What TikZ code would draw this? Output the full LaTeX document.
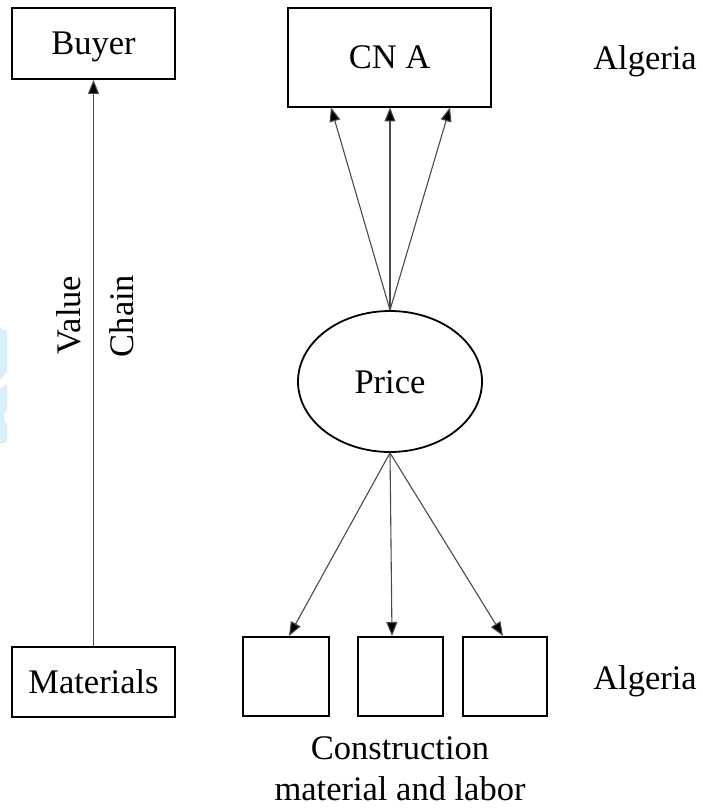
\documentclass[tikz,border=0pt]{standalone}
\usepackage{fontspec}
\setmainfont{Liberation Serif}
\usetikzlibrary{arrows.meta,shapes.geometric}
\definecolor{linkgray}{HTML}{4A4A4A}
\definecolor{markblue}{HTML}{D8EFFC}
\begin{document}
\begin{tikzpicture}[x=1pt,y=-1pt,
  txt/.style={font=\fontsize{34.5}{41}\selectfont, inner sep=0pt,
    text height=23pt, text depth=0pt},
  boxnode/.style={txt, draw=black, line width=1.8pt, rectangle},
  link/.style={draw=linkgray, line width=1.1pt,
    -{Triangle[length=14pt,width=11pt,fill=black]}}]
  \useasboundingbox (0,0) rectangle (703,810);
  \fill[white] (0,0) rectangle (703,810);

  % faint mark at the left margin
  \fill[markblue] (0,328) -- (7,331) -- (7,372) -- (0,380) -- cycle;
  \fill[markblue] (0,389) -- (7,384) -- (7,410) -- (4,414) -- (4,420)
    -- (7,424) -- (7,442) -- (0,444) -- cycle;

  % value chain column
  \node[boxnode, minimum width=163pt, minimum height=71pt] (buyer) at (93.5,43.5) {Buyer};
  \node[boxnode, minimum width=163pt, minimum height=70pt] (materials) at (93.5,682) {Materials};
  \draw[link] (materials.north) -- (buyer.south);
  \node[txt, rotate=90] (value) at (68.5,315) {Value};
  \node[txt, rotate=90] (chain) at (121.5,316) {Chain};

  % price network
  \node[boxnode, minimum width=203pt, minimum height=99pt] (cna) at (389.5,57.5) {CN A};
  \node[txt, draw=black, line width=1.8pt, ellipse, minimum width=184pt, minimum height=141pt] (price) at (390,381.5) {Price};
  \node[boxnode, minimum width=86pt, minimum height=79pt] (b1) at (286,676.5) {};
  \node[boxnode, minimum width=85pt, minimum height=79pt] (b2) at (400.5,676.5) {};
  \node[boxnode, minimum width=84pt, minimum height=79pt] (b3) at (505,676.5) {};

  \coordinate (top1) at (331,107.5);
  \coordinate (top2) at (390,107.5);
  \coordinate (top3) at (450,107.5);
  \coordinate (bot1) at (289,636);
  \coordinate (bot2) at (392,636);
  \coordinate (bot3) at (503,636);

  \draw[link] (price.north) -- (top1);
  \draw[link] (price.north) -- (top2);
  \draw[link] (price.north) -- (top3);
  \draw[link] (price.south) -- (bot1);
  \draw[link] (price.south) -- (bot2);
  \draw[link] (price.south) -- (bot3);

  \node[txt] (alg1) at (645,58.5) {Algeria};
  \node[txt] (alg2) at (645,678) {Algeria};
  \node[font=\fontsize{34.5}{41}\selectfont, inner sep=0pt, align=center] (cml) at (400,769) {Construction\\material and labor};
\end{tikzpicture}
\end{document}
